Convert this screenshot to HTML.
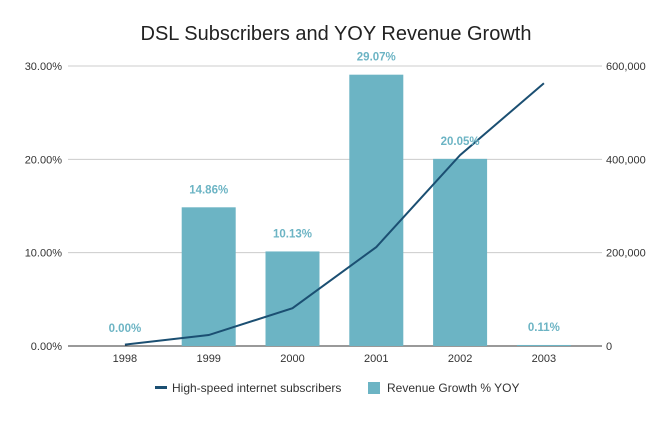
<!DOCTYPE html>
<html><head><meta charset="utf-8"><style>
body{margin:0;background:#fff;font-family:"Liberation Sans",sans-serif}
svg text{font-family:"Liberation Sans",sans-serif}
</style></head><body>
<svg id="c" width="672" height="416" xmlns="http://www.w3.org/2000/svg">
<text x="336" y="40" text-anchor="middle" font-size="20" fill="#222">DSL Subscribers and YOY Revenue Growth</text>
<g id="grid"></g><g id="bars"></g><g id="line"></g><g id="labels"></g>
<g>
<rect x="155" y="386" width="12" height="3" fill="#1b4f72"/>
<text x="172" y="392" font-size="12" fill="#333">High-speed internet subscribers</text>
<rect x="368" y="382" width="12" height="12" fill="#6cb4c4"/>
<text x="387" y="392" font-size="12" fill="#333">Revenue Growth % YOY</text>
</g>
</svg>
<script>
const categories=["1998","1999","2000","2001","2002","2003"];
const growth=[0.00,14.86,10.13,29.07,20.05,0.11];
const subscribers=[3000,23500,81000,212000,409000,563000];
const leftTicks=["0.00%","10.00%","20.00%","30.00%"];
const rightTicks=["0","200,000","400,000","600,000"];
const NS="http://www.w3.org/2000/svg";
const x0=68,x1=602,yTop=66,yBot=346,band=83.8,start=83;
const xc=i=>start+band*(i+0.5);
const yL=v=>yBot-(v/30)*(yBot-yTop);
const yR=v=>yBot-(v/600000)*(yBot-yTop);
function mk(t,a,p){const e=document.createElementNS(NS,t);for(const k in a)e.setAttribute(k,a[k]);p.appendChild(e);return e;}
const g=document.getElementById('grid');
leftTicks.forEach((t,i)=>{const y=yL(i*10);
const l=mk('line',{x1:x0,x2:x1,y1:y,y2:y,stroke:i==0?'#333':'#ccc','stroke-width':1},g);


const a=mk('text',{x:62,y:y+4,'text-anchor':'end','font-size':11,fill:'#333'},g);a.textContent=t;


const b=mk('text',{x:606,y:y+4,'font-size':11,fill:'#333'},g);b.textContent=rightTicks[i];

});
const bg=document.getElementById('bars'),lg=document.getElementById('labels');
categories.forEach((c,i)=>{const y=yL(growth[i]);
const r=mk('rect',{x:xc(i)-27,y:y,width:54,height:yBot-y,fill:'#6cb4c4'},bg);


const t=mk('text',{x:xc(i),y:y-14,'text-anchor':'middle','font-size':11.5,'font-weight':'bold',fill:'#6cb4c4'},lg);t.textContent=growth[i].toFixed(2)+'%';


const x=mk('text',{x:xc(i),y:362,'text-anchor':'middle','font-size':11,fill:'#333'},lg);x.textContent=c;

});
const p=mk('polyline',{points:subscribers.map((v,i)=>xc(i)+','+yR(v)).join(' '),fill:'none',stroke:'#1b4f72','stroke-width':2},document.getElementById('line'));


</script>
</body></html>
